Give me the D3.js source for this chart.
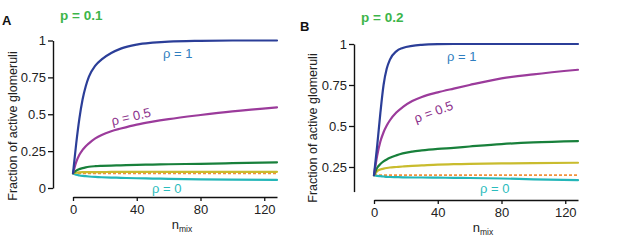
<!DOCTYPE html>
<html>
<head>
<meta charset="utf-8">
<script src="https://cdn.jsdelivr.net/npm/d3@7"></script>
<style>
  html, body { margin: 0; padding: 0; background: #fff; }
  svg { display: block; font-family: "Liberation Sans", Arial, Helvetica, sans-serif; }
</style>
</head>
<body>
<svg id="chart" width="617" height="240"></svg>
<script>
// ---- data ----
const nSamples = [0, 2, 4, 6, 8, 10, 14, 18, 24, 30, 40, 50, 60, 80, 100, 128];
const xTicks = [0, 40, 80, 120];

// Panel A (p = 0.1)
const pA = 0.1;
const yTicksA = [0, 0.25, 0.5, 0.75, 1];
const A_rho1   = [0.10, 0.30, 0.47, 0.60, 0.69, 0.755, 0.83, 0.872, 0.915, 0.945, 0.972, 0.985, 0.993, 0.998, 1.0, 1.0];
const A_rho05  = [0.10, 0.175, 0.225, 0.258, 0.283, 0.303, 0.336, 0.36, 0.385, 0.403, 0.43, 0.45, 0.467, 0.495, 0.52, 0.547];
const A_green  = [0.10, 0.118, 0.128, 0.135, 0.14, 0.144, 0.148, 0.15, 0.152, 0.154, 0.157, 0.159, 0.161, 0.164, 0.168, 0.174];
const A_yellow = [0.10, 0.104, 0.106, 0.107, 0.107, 0.108, 0.108, 0.108, 0.109, 0.109, 0.109, 0.11, 0.11, 0.11, 0.11, 0.11];
const A_rho0   = [0.10, 0.09, 0.085, 0.082, 0.08, 0.078, 0.075, 0.073, 0.071, 0.069, 0.066, 0.064, 0.062, 0.059, 0.057, 0.055];

// Panel B (p = 0.2)
const pB = 0.2;
const yTicksB = [0.25, 0.5, 0.75, 1];
const B_rho1   = [0.20, 0.38, 0.58, 0.75, 0.85, 0.905, 0.955, 0.976, 0.989, 0.995, 0.999, 1.0, 1.0, 1.0, 1.0, 1.0];
const B_rho05  = [0.20, 0.32, 0.405, 0.462, 0.503, 0.535, 0.582, 0.615, 0.652, 0.677, 0.705, 0.728, 0.75, 0.79, 0.815, 0.843];
const B_green  = [0.20, 0.245, 0.268, 0.284, 0.296, 0.306, 0.321, 0.333, 0.344, 0.351, 0.36, 0.367, 0.375, 0.39, 0.40, 0.408];
const B_yellow = [0.20, 0.225, 0.235, 0.24, 0.244, 0.247, 0.25, 0.253, 0.257, 0.26, 0.265, 0.267, 0.269, 0.272, 0.274, 0.276];
const B_rho0   = [0.20, 0.196, 0.194, 0.192, 0.19, 0.189, 0.188, 0.187, 0.186, 0.186, 0.185, 0.184, 0.183, 0.18, 0.175, 0.17];

const tickFmt = d => (d === 0 ? "0" : d === 1 ? "1" : String(d));

// ---- drawing ----
const svg = d3.select("#chart");

const colors = {
  blue: "#2b3e98", purple: "#9b3b9b", green: "#18803b", yellow: "#c9bc2e",
  orange: "#f2913a", cyan: "#24b6b8",
  lblBlue: "#2f7ec0", lblPurple: "#8c318c", lblCyan: "#2bbcbd", title: "#3db54a"
};

function panel(cfg) {
  const x = d3.scaleLinear().domain([0, 128]).range(cfg.xRange);
  const y = d3.scaleLinear().domain(cfg.yDomain).range(cfg.yRange);

  // y axis
  const ya = svg.append("g").attr("transform", `translate(${cfg.yAxisX},0)`)
    .call(d3.axisLeft(y).tickValues(cfg.yTicks).tickFormat(tickFmt).tickSize(5).tickPadding(2).tickSizeOuter(0));
  ya.select(".domain").attr("stroke", "#111").attr("stroke-width", 1.4);
  ya.selectAll(".tick line").attr("stroke", "#111").attr("stroke-width", 1.3);
  ya.selectAll(".tick text").attr("font-size", 13).attr("fill", "#222")
    .attr("font-family", "Liberation Sans, Arial, sans-serif");

  // x axis
  const xa = svg.append("g").attr("transform", `translate(0,${cfg.xAxisY})`)
    .call(d3.axisBottom(x).tickValues(xTicks).tickSize(4).tickPadding(4).tickSizeOuter(0));
  xa.select(".domain").attr("stroke", "#111").attr("stroke-width", 1.4);
  xa.selectAll(".tick line").attr("stroke", "#111").attr("stroke-width", 1.3);
  xa.selectAll(".tick text").attr("font-size", 13).attr("fill", "#222")
    .attr("font-family", "Liberation Sans, Arial, sans-serif");

  // x label n_mix
  const xl = svg.append("text").attr("x", x(64) + 7).attr("y", cfg.xAxisY + 32)
    .attr("text-anchor", "middle").attr("font-size", 13).attr("fill", "#222");
  xl.append("tspan").text("n");
  xl.append("tspan").attr("font-size", 8.5).attr("dy", 3).text("mix");

  // y label
  svg.append("text")
    .attr("transform", `translate(${cfg.yLabelX},${cfg.yLabelY}) rotate(-90)`)
    .attr("text-anchor", "middle").attr("font-size", 12.5).attr("fill", "#222")
    .text("Fraction of active glomeruli");

  const line = d3.line().x((d, i) => x(nSamples[i])).y(d => y(d)).curve(d3.curveMonotoneX);

  // dashed reference at p
  svg.append("line")
    .attr("x1", x(0)).attr("x2", x(128)).attr("y1", y(cfg.p)).attr("y2", y(cfg.p))
    .attr("stroke", colors.orange).attr("stroke-width", 1.8).attr("stroke-dasharray", "3,2");

  const series = [
    [cfg.rho0, colors.cyan],
    [cfg.yellow, colors.yellow],
    [cfg.green, colors.green],
    [cfg.rho05, colors.purple],
    [cfg.rho1, colors.blue]
  ];
  series.forEach(([vals, c]) => {
    svg.append("path").datum(vals).attr("d", line)
      .attr("fill", "none").attr("stroke", c).attr("stroke-width", 2.2)
      .attr("stroke-linejoin", "round").attr("stroke-linecap", "round");
  });

  // curve labels
  svg.append("text").attr("x", cfg.lbl1[0]).attr("y", cfg.lbl1[1]).attr("font-size", 13)
    .attr("fill", colors.lblBlue).text("ρ = 1");
  svg.append("text").attr("x", cfg.lbl0[0]).attr("y", cfg.lbl0[1]).attr("font-size", 13)
    .attr("fill", colors.lblCyan).text("ρ = 0");
  svg.append("text").attr("transform", `translate(${cfg.lbl05[0]},${cfg.lbl05[1]}) rotate(${cfg.lbl05[2]})`)
    .attr("text-anchor", "middle").attr("font-size", 13)
    .attr("fill", colors.lblPurple).text("ρ = 0.5");

  // panel letter & p title
  svg.append("text").attr("x", cfg.letterPos[0]).attr("y", cfg.letterPos[1])
    .attr("font-size", 13).attr("font-weight", "bold").attr("fill", "#111").text(cfg.letter);
  svg.append("text").attr("x", cfg.titlePos[0]).attr("y", cfg.titlePos[1])
    .attr("font-size", 13.5).attr("font-weight", "bold").attr("fill", colors.title).text(cfg.title);
}

panel({
  xRange: [73, 277], yDomain: [0, 1], yRange: [188, 40.5], yTicks: yTicksA,
  yAxisX: 53, xAxisY: 197, yLabelX: 17, yLabelY: 126, p: pA,
  rho1: A_rho1, rho05: A_rho05, green: A_green, yellow: A_yellow, rho0: A_rho0,
  lbl1: [163, 58], lbl0: [152, 193], lbl05: [132, 121, -13],
  letter: "A", letterPos: [2, 25], title: "p = 0.1", titlePos: [60, 20]
});

panel({
  xRange: [374, 578], yDomain: [0.1, 1], yRange: [191.6, 44], yTicks: yTicksB,
  yAxisX: 354, xAxisY: 200, yLabelX: 317, yLabelY: 128, p: pB,
  rho1: B_rho1, rho05: B_rho05, green: B_green, yellow: B_yellow, rho0: B_rho0,
  lbl1: [447, 61], lbl0: [480, 193], lbl05: [435, 116, -20],
  letter: "B", letterPos: [300, 31], title: "p = 0.2", titlePos: [361, 22]
});
</script>
</body>
</html>
